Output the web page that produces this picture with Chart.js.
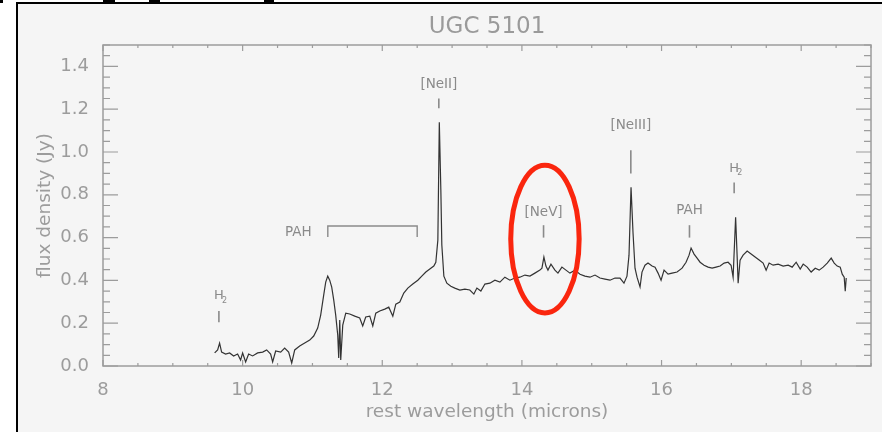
<!DOCTYPE html>
<html>
<head>
<meta charset="utf-8">
<script src="https://cdn.jsdelivr.net/npm/chart.js@4.4.1/dist/chart.umd.min.js"></script>
<style>
  body { margin: 0; background: #fff; }
  #wrap { position: relative; width: 882px; height: 432px; overflow: hidden; }
  #frame { position: absolute; left: 16px; top: 2px; width: 900px; height: 460px;
           border-left: 2px solid #000; border-top: 2px solid #000; background: #f5f5f5; }
  .bit { position: absolute; top: 0; height: 3px; background: #000; }
  canvas { position: absolute; left: 0; top: 0; }
</style>
</head>
<body>
<div id="wrap">
  <div id="frame"></div>
  <div class="bit" style="left:0;width:3px"></div>
  <div class="bit" style="left:103px;width:12px"></div>
  <div class="bit" style="left:149px;width:11px"></div>
  <div class="bit" style="left:264px;width:10px"></div>
  <canvas id="spectrum" width="882" height="432"></canvas>
</div>
<script>
// UGC 5101 spectrum
const wavelength = [9.599, 9.642, 9.670, 9.699, 9.756, 9.814, 9.871, 9.928, 9.971, 10.000,
  10.043, 10.086, 10.143, 10.215, 10.287, 10.344, 10.401, 10.430, 10.473, 10.545,
  10.602, 10.659, 10.703, 10.746, 10.817, 10.889, 10.961, 11.018, 11.075, 11.118,
  11.161, 11.190, 11.219, 11.247, 11.276, 11.305, 11.333, 11.362, 11.376, 11.391,
  11.405, 11.434, 11.477, 11.534, 11.606, 11.677, 11.720, 11.763, 11.821, 11.864,
  11.907, 11.964, 12.036, 12.093, 12.151, 12.194, 12.251, 12.308, 12.366, 12.437,
  12.509, 12.566, 12.624, 12.681, 12.738, 12.767, 12.796, 12.817, 12.839, 12.853,
  12.882, 12.925, 12.982, 13.039, 13.111, 13.183, 13.254, 13.312, 13.355, 13.412,
  13.470, 13.541, 13.613, 13.685, 13.756, 13.828, 13.900, 13.971, 14.043, 14.115,
  14.186, 14.258, 14.287, 14.315, 14.344, 14.373, 14.416, 14.473, 14.516, 14.573,
  14.631, 14.688, 14.760, 14.832, 14.903, 14.975, 15.047, 15.118, 15.190, 15.262,
  15.333, 15.405, 15.462, 15.505, 15.534, 15.563, 15.591, 15.620, 15.649, 15.692,
  15.720, 15.763, 15.806, 15.864, 15.907, 15.950, 15.993, 16.036, 16.093, 16.151,
  16.222, 16.294, 16.351, 16.394, 16.423, 16.466, 16.509, 16.552, 16.609, 16.667,
  16.724, 16.781, 16.839, 16.896, 16.953, 16.996, 17.025, 17.061, 17.082, 17.097,
  17.125, 17.168, 17.226, 17.283, 17.340, 17.398, 17.455, 17.498, 17.541, 17.598,
  17.670, 17.742, 17.814, 17.871, 17.928, 17.986, 18.029, 18.086, 18.143, 18.201,
  18.258, 18.315, 18.373, 18.430, 18.473, 18.516, 18.559, 18.588, 18.616, 18.631,
  18.645];
const flux = [0.061, 0.075, 0.107, 0.065, 0.056, 0.061, 0.047, 0.056, 0.028, 0.061,
  0.019, 0.056, 0.047, 0.061, 0.065, 0.075, 0.056, 0.019, 0.070, 0.065,
  0.084, 0.065, 0.014, 0.075, 0.093, 0.107, 0.121, 0.140, 0.177, 0.238,
  0.331, 0.392, 0.420, 0.401, 0.369, 0.308, 0.238, 0.145, 0.037, 0.215,
  0.028, 0.191, 0.247, 0.243, 0.233, 0.224, 0.187, 0.229, 0.233, 0.187,
  0.247, 0.257, 0.266, 0.275, 0.233, 0.289, 0.299, 0.341, 0.364, 0.383,
  0.401, 0.420, 0.439, 0.453, 0.467, 0.485, 0.588, 1.139, 0.821, 0.565,
  0.420, 0.387, 0.373, 0.364, 0.355, 0.359, 0.355, 0.336, 0.364, 0.350,
  0.383, 0.387, 0.401, 0.392, 0.415, 0.401, 0.411, 0.415, 0.425, 0.420,
  0.434, 0.448, 0.457, 0.509, 0.467, 0.448, 0.476, 0.448, 0.434, 0.462,
  0.448, 0.434, 0.448, 0.429, 0.420, 0.415, 0.425, 0.411, 0.406, 0.401,
  0.411, 0.411, 0.387, 0.420, 0.518, 0.835, 0.625, 0.457, 0.415, 0.369,
  0.439, 0.471, 0.481, 0.467, 0.462, 0.434, 0.401, 0.448, 0.429, 0.434,
  0.439, 0.457, 0.485, 0.518, 0.551, 0.523, 0.504, 0.485, 0.471, 0.462,
  0.457, 0.462, 0.467, 0.481, 0.485, 0.471, 0.415, 0.695, 0.518, 0.387,
  0.495, 0.518, 0.537, 0.523, 0.509, 0.495, 0.481, 0.448, 0.481, 0.471,
  0.476, 0.467, 0.471, 0.462, 0.485, 0.453, 0.476, 0.462, 0.439, 0.457,
  0.448, 0.462, 0.481, 0.504, 0.481, 0.467, 0.462, 0.429, 0.415, 0.350,
  0.411];

const xTickLabels = [8, 10, 12, 14, 16, 18];
const yTickLabels = [0.0, 0.2, 0.4, 0.6, 0.8, 1.0, 1.2, 1.4];

// line identifications
const lineNames = ['H2', '[NeII]', '[NeV]', '[NeIII]', 'PAH', 'H2'];
const lineWave = [9.66, 12.81, 14.31, 15.56, 16.40, 17.04];
const labelFlux = [0.327, 1.316, 0.719, 1.125, 0.728, 0.924];
const markLow = [0.205, 1.204, 0.600, 0.900, 0.600, 0.807];
const markHigh = [0.257, 1.250, 0.658, 1.008, 0.658, 0.858];
const pahBand = [11.22, 12.50];
const pahBandFlux = [0.603, 0.654];
const pahBandLabel = [10.99, 0.625];
const circled = [14.33, 0.593, 0.49, 0.345]; // centre and half-axes

const gray = '#9c9c9c';
const font = 'DejaVu Sans';

const isIn = (list, v) => list.some(t => Math.abs(t - v) < 1e-6);

const frameTicks = {
  id: 'frameTicks',
  afterDatasetsDraw(chart) {
    const {ctx, chartArea: a, scales: {x, y}} = chart;
    ctx.save();
    ctx.strokeStyle = gray;
    ctx.lineWidth = 1.5;
    ctx.strokeRect(a.left, a.top, a.right - a.left, a.bottom - a.top);
    ctx.lineWidth = 1.2;
    ctx.beginPath();
    y.ticks.forEach(t => {
      const py = y.getPixelForValue(t.value);
      const len = isIn(yTickLabels, t.value) ? 15 : 7;
      ctx.moveTo(a.left, py); ctx.lineTo(a.left + len, py);
      ctx.moveTo(a.right, py); ctx.lineTo(a.right - len, py);
    });
    x.ticks.forEach(t => {
      const px = x.getPixelForValue(t.value);
      const len = isIn(xTickLabels, t.value) ? 6 : 3;
      ctx.moveTo(px, a.bottom); ctx.lineTo(px, a.bottom - len);
      ctx.moveTo(px, a.top); ctx.lineTo(px, a.top + len);
    });
    ctx.stroke();
    ctx.restore();
  }
};

const lineMarks = {
  id: 'lineMarks',
  afterDatasetsDraw(chart) {
    const {ctx, scales: {x, y}} = chart;
    ctx.save();
    ctx.strokeStyle = '#8a8a8a';
    ctx.fillStyle = '#8a8a8a';
    ctx.lineWidth = 1.6;
    ctx.textBaseline = 'middle';
    lineNames.forEach((name, i) => {
      const px = x.getPixelForValue(lineWave[i]);
      ctx.beginPath();
      ctx.moveTo(px, y.getPixelForValue(markLow[i]));
      ctx.lineTo(px, y.getPixelForValue(markHigh[i]));
      ctx.stroke();
      const ly = y.getPixelForValue(labelFlux[i]);
      if (name === 'H2') {
        ctx.font = '13px ' + font;
        ctx.textAlign = 'center';
        ctx.fillText('H', px, ly);
        ctx.font = '8px ' + font;
        ctx.textAlign = 'left';
        ctx.fillText('2', px + 3, ly + 5);
      } else {
        ctx.font = '13.5px ' + font;
        ctx.textAlign = 'center';
        ctx.fillText(name, px, ly);
      }
    });
    // PAH band bracket
    const x0 = x.getPixelForValue(pahBand[0]);
    const x1 = x.getPixelForValue(pahBand[1]);
    const yb = y.getPixelForValue(pahBandFlux[0]);
    const yt = y.getPixelForValue(pahBandFlux[1]);
    ctx.lineWidth = 1.4;
    ctx.beginPath();
    ctx.moveTo(x0, yb); ctx.lineTo(x0, yt); ctx.lineTo(x1, yt); ctx.lineTo(x1, yb);
    ctx.stroke();
    ctx.font = '13.5px ' + font;
    ctx.textAlign = 'right';
    ctx.fillText('PAH', x.getPixelForValue(pahBandLabel[0]), y.getPixelForValue(pahBandLabel[1]));

    // red ellipse round [NeV]
    const cx = x.getPixelForValue(circled[0]);
    const cy = y.getPixelForValue(circled[1]);
    const rx = x.getPixelForValue(circled[0] + circled[2]) - cx;
    const ry = cy - y.getPixelForValue(circled[1] + circled[3]);
    ctx.strokeStyle = 'rgb(250, 38, 14)';
    ctx.lineWidth = 5;
    ctx.beginPath();
    ctx.ellipse(cx, cy, rx, ry, 0, 0, Math.PI * 2);
    ctx.stroke();
    ctx.restore();
  }
};

const ctx = document.getElementById('spectrum').getContext('2d');
new Chart(ctx, {
  type: 'scatter',
  data: {
    datasets: [{
      data: wavelength.map((w, i) => ({x: w, y: flux[i]})),
      showLine: true,
      borderColor: '#333',
      borderWidth: 1.2,
      pointRadius: 0,
      tension: 0
    }]
  },
  options: {
    responsive: false,
    animation: false,
    layout: { padding: { top: 0, right: 11, left: 0, bottom: 0 } },
    plugins: {
      legend: { display: false },
      tooltip: { enabled: false },
      title: {
        display: true,
        text: 'UGC 5101',
        fullSize: false,
        color: '#9a9a9a',
        font: { family: font, size: 23, weight: 'normal' },
        padding: { top: 13, bottom: 4.4 }
      }
    },
    scales: {
      x: {
        type: 'linear',
        min: 8,
        max: 19,
        grid: { display: false },
        border: { display: false },
        ticks: {
          stepSize: 0.5,
          autoSkip: false,
          maxTicksLimit: 100,
          maxRotation: 0,
          padding: 6,
          color: gray,
          font: { family: font, size: 18 },
          callback: v => isIn(xTickLabels, v) ? String(v) : ''
        },
        title: {
          display: true,
          text: 'rest wavelength (microns)',
          color: gray,
          font: { family: font, size: 18.5 },
          padding: { top: 0, bottom: 9 }
        },
        afterFit: s => { s.height = 66; }
      },
      y: {
        min: 0,
        max: 1.5,
        grid: { display: false },
        border: { display: false },
        ticks: {
          stepSize: 0.05,
          autoSkip: false,
          maxTicksLimit: 100,
          padding: 6,
          color: gray,
          font: { family: font, size: 18 },
          callback: v => isIn(yTickLabels, v) ? v.toFixed(1) : ''
        },
        title: {
          display: true,
          text: 'flux density (Jy)',
          color: gray,
          font: { family: font, size: 18.5 },
          padding: { top: 34, bottom: 0 }
        },
        afterFit: s => { s.width = 103; }
      }
    }
  },
  plugins: [frameTicks, lineMarks]
});
</script>
</body>
</html>
